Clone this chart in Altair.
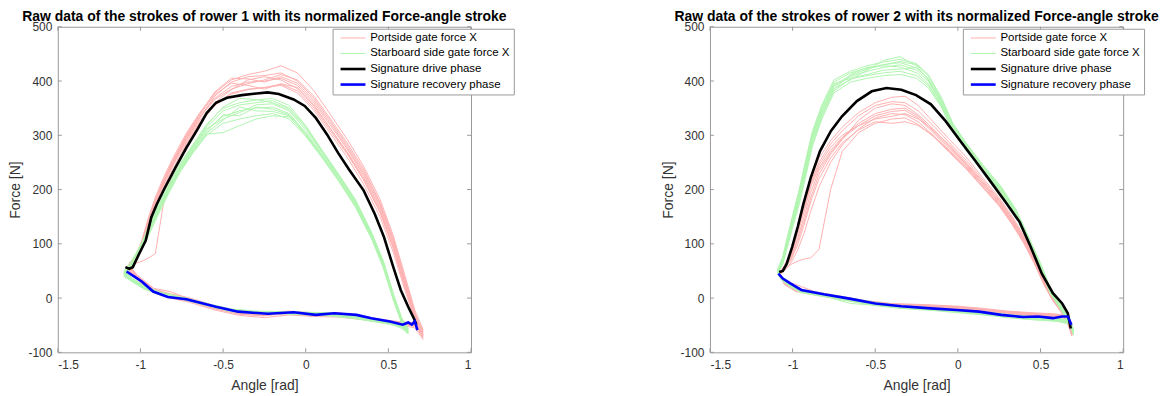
import altair as alt
import pandas as pd

SERIES = ["Portside gate force X", "Starboard side gate force X",
          "Signature drive phase", "Signature recovery phase"]
COLORS = ["#ffb0b0", "#b0f5b0", "#000000", "#0000ff"]
WIDTHS = [1.0, 1.0, 2.6, 2.6]

TITLES = ["Raw data of the strokes of rower 1 with its normalized Force-angle stroke",
          "Raw data of the strokes of rower 2 with its normalized Force-angle stroke"]

X_TICKS = [-1.5, -1, -0.5, 0, 0.5, 1]
Y_TICKS = [-100, 0, 100, 200, 300, 400, 500]

# ---------------- rower 1 ----------------
R1_PORT_DRIVE_ANGLE = [-1.07, -1.03, -0.99, -0.95, -0.91, -0.86, -0.80, -0.72, -0.64, -0.55, -0.45, -0.35,
                       -0.25, -0.15, -0.05, 0.05, 0.15, 0.25, 0.35, 0.45, 0.53, 0.60, 0.66, 0.71]
R1_PORT_DRIVE = [
    [60, 72, 100, 140, 178, 215, 252, 298, 335, 368, 390, 398, 400, 405, 392, 360, 318, 275, 226, 166, 100, 28, -32, -64],
    [57, 66, 90, 126, 165, 204, 240, 288, 325, 356, 378, 385, 388, 392, 378, 346, 303, 260, 210, 150, 84, 15, -40, -72],
    [64, 76, 108, 150, 186, 222, 260, 305, 342, 378, 402, 412, 418, 428, 415, 382, 338, 293, 243, 182, 115, 42, -22, -58],
    [60, 64, 68, 74, 82, 175, 232, 285, 322, 355, 376, 384, 388, 394, 382, 350, 308, 266, 218, 158, 92, 22, -38, -76],
    [58, 70, 96, 134, 172, 210, 248, 294, 332, 372, 398, 408, 410, 415, 400, 368, 326, 282, 234, 174, 108, 35, -26, -68],
    [62, 75, 104, 146, 182, 218, 256, 300, 338, 375, 396, 392, 385, 395, 388, 356, 312, 268, 218, 158, 92, 20, -36, -62],
    [61, 70, 98, 138, 175, 212, 250, 296, 333, 366, 385, 395, 402, 412, 402, 372, 330, 286, 238, 176, 110, 36, -28, -70],
    [59, 68, 94, 132, 170, 208, 246, 292, 328, 360, 384, 402, 408, 402, 386, 354, 312, 270, 222, 162, 96, 24, -34, -66],
    [63, 74, 102, 144, 180, 216, 254, 302, 340, 380, 405, 404, 398, 408, 396, 364, 322, 278, 230, 170, 104, 32, -30, -60],
]
R1_PORT_REC_ANGLE = [0.71, 0.66, 0.58, 0.48, 0.35, 0.20, 0.05, -0.10, -0.25, -0.40, -0.55, -0.70, -0.82, -0.92, -1.00, -1.07]
R1_PORT_REC = [
    [-64, -50, -47, -42, -35, -30, -32, -28, -30, -27, -18, -4, 4, 14, 33, 55],
    [-72, -52, -48, -44, -38, -33, -29, -26, -33, -30, -20, -6, 2, 12, 30, 50],
    [-58, -45, -44, -40, -34, -27, -27, -24, -26, -24, -14, 0, 8, 17, 36, 58],
    [-76, -55, -50, -46, -40, -35, -34, -31, -36, -32, -22, -8, 0, 10, 28, 60],
    [-68, -48, -45, -41, -36, -28, -30, -28, -28, -25, -15, -2, 12, 18, 38, 54],
    [-62, -47, -46, -43, -37, -31, -31, -25, -31, -28, -19, -5, 6, 15, 34, 62],
    [-70, -49, -46, -42, -36, -29, -30, -27, -29, -26, -17, -3, 5, 13, 32, 56],
    [-66, -51, -47, -43, -37, -32, -33, -29, -32, -29, -19, -5, 3, 11, 31, 52],
    [-60, -46, -45, -41, -35, -29, -28, -25, -27, -25, -16, -1, 7, 16, 35, 59],
]
R1_STAR_DRIVE_ANGLE = [-1.10, -1.06, -1.02, -0.98, -0.94, -0.89, -0.83, -0.76, -0.68, -0.60, -0.50, -0.40,
                       -0.30, -0.20, -0.10, 0.00, 0.10, 0.20, 0.30, 0.40, 0.47, 0.53, 0.58, 0.62]
R1_STAR_DRIVE = [
    [45, 60, 80, 104, 132, 165, 202, 240, 276, 310, 335, 345, 350, 352, 340, 305, 265, 222, 176, 114, 62, 3, -42, -60],
    [40, 55, 74, 96, 122, 155, 192, 232, 268, 300, 322, 330, 336, 340, 330, 298, 258, 215, 168, 108, 55, -4, -46, -64],
    [50, 66, 86, 110, 140, 174, 210, 248, 284, 320, 350, 360, 365, 368, 355, 318, 272, 228, 182, 120, 68, 8, -36, -56],
    [42, 58, 78, 100, 128, 160, 196, 236, 272, 302, 305, 318, 330, 336, 334, 302, 262, 218, 172, 110, 58, 0, -44, -66],
    [48, 62, 83, 108, 136, 170, 206, 245, 282, 318, 352, 368, 366, 360, 348, 314, 270, 226, 180, 118, 66, 6, -38, -58],
    [44, 57, 76, 102, 130, 162, 200, 238, 274, 306, 338, 336, 352, 348, 338, 304, 262, 220, 174, 112, 60, 1, -40, -62],
    [46, 59, 79, 103, 131, 164, 201, 241, 278, 312, 330, 342, 356, 358, 345, 310, 268, 224, 178, 116, 64, 4, -40, -61],
    [43, 56, 75, 98, 126, 158, 196, 234, 270, 304, 328, 352, 345, 344, 336, 300, 260, 217, 170, 110, 57, -2, -45, -63],
    [47, 61, 82, 106, 134, 168, 204, 243, 280, 315, 345, 356, 360, 364, 350, 316, 271, 227, 181, 119, 67, 7, -37, -57],
]
R1_STAR_REC_ANGLE = [0.62, 0.58, 0.52, 0.42, 0.30, 0.15, 0.00, -0.15, -0.30, -0.45, -0.60, -0.75, -0.88, -0.98, -1.05, -1.10]
R1_STAR_REC = [
    [-60, -50, -46, -41, -35, -30, -28, -27, -26, -22, -12, 0, 8, 20, 34, 45],
    [-64, -54, -49, -44, -38, -33, -31, -29, -29, -25, -14, -2, 5, 17, 30, 40],
    [-56, -48, -44, -38, -32, -27, -26, -25, -24, -20, -10, 2, 11, 23, 37, 50],
    [-66, -56, -48, -42, -37, -31, -29, -28, -27, -24, -13, -1, 7, 19, 32, 42],
    [-58, -49, -45, -40, -34, -29, -27, -26, -25, -21, -11, 1, 9, 22, 36, 48],
    [-62, -52, -47, -43, -36, -32, -30, -28, -28, -23, -12, 0, 6, 18, 31, 44],
    [-61, -51, -47, -42, -36, -31, -29, -28, -27, -23, -12, 0, 7, 19, 33, 46],
    [-63, -53, -48, -43, -37, -32, -30, -28, -28, -24, -13, -1, 6, 18, 31, 43],
    [-57, -49, -45, -39, -33, -28, -27, -26, -25, -21, -11, 1, 10, 22, 36, 48],
]
R1_SIG_DRIVE_ANGLE = [-1.091, -1.068, -1.046, -1.012, -0.968, -0.934, -0.901, -0.856, -0.789, -0.722, -0.655,
                      -0.599, -0.543, -0.476, -0.386, -0.297, -0.230, -0.163, -0.073, -0.006, 0.061, 0.128,
                      0.195, 0.262, 0.351, 0.418, 0.474, 0.530, 0.575, 0.620, 0.654, 0.670]
R1_SIG_DRIVE = [57, 54, 57, 79, 106, 149, 173, 201, 240, 277, 311, 341, 360, 369, 374, 377, 379, 376, 366,
                354, 332, 302, 268, 237, 198, 155, 112, 57, 15, -16, -37, -49]
R1_SIG_REC_ANGLE = [0.676, 0.660, 0.642, 0.620, 0.587, 0.509, 0.397, 0.307, 0.173, 0.061, -0.073, -0.230,
                    -0.409, -0.543, -0.722, -0.834, -0.923, -0.990, -1.034, -1.084]
R1_SIG_REC = [-59, -43, -49, -45, -49, -43, -37, -31, -28, -31, -26, -29, -25, -16, -2, 2, 12, 30, 39, 49]

# ---------------- rower 2 ----------------
R2_PORT_DRIVE_ANGLE = [-1.08, -1.05, -1.01, -0.97, -0.93, -0.89, -0.84, -0.77, -0.70, -0.60, -0.50, -0.40,
                       -0.32, -0.24, -0.15, -0.05, 0.05, 0.15, 0.25, 0.33, 0.40, 0.46, 0.52, 0.57, 0.62, 0.66, 0.69]
R2_PORT_DRIVE = [
    [45, 55, 78, 118, 160, 205, 240, 272, 296, 322, 340, 348, 350, 335, 308, 278, 248, 213, 178, 143, 108, 72, 30, 2, -20, -40, -64],
    [42, 50, 65, 88, 120, 160, 205, 250, 282, 312, 332, 340, 338, 325, 300, 270, 240, 205, 170, 135, 100, 65, 25, -3, -24, -44, -68],
    [48, 60, 85, 130, 175, 220, 258, 290, 315, 342, 360, 370, 372, 355, 325, 292, 260, 222, 185, 150, 114, 78, 36, 6, -16, -36, -60],
    [44, 52, 62, 68, 72, 74, 90, 200, 270, 305, 322, 330, 332, 320, 298, 268, 238, 204, 170, 136, 102, 68, 27, -1, -22, -42, -66],
    [46, 57, 80, 122, 165, 210, 245, 278, 300, 318, 330, 335, 340, 330, 310, 282, 250, 215, 180, 145, 110, 74, 32, 4, -18, -38, -62],
    [43, 54, 72, 105, 142, 185, 228, 265, 292, 328, 350, 358, 355, 338, 312, 280, 246, 210, 174, 140, 106, 70, 28, 1, -21, -41, -70],
    [44, 53, 74, 110, 150, 195, 235, 268, 294, 318, 336, 344, 346, 332, 305, 275, 244, 210, 176, 141, 106, 71, 29, 1, -20, -40, -66],
    [47, 58, 82, 126, 170, 214, 250, 284, 308, 336, 355, 362, 360, 345, 318, 286, 254, 218, 182, 147, 112, 76, 34, 5, -17, -37, -62],
    [45, 54, 70, 98, 135, 178, 220, 258, 286, 310, 325, 322, 325, 318, 300, 272, 242, 207, 172, 138, 104, 68, 26, -2, -23, -43, -68],
]
R2_PORT_REC_ANGLE = [0.69, 0.66, 0.58, 0.45, 0.30, 0.15, 0.00, -0.20, -0.40, -0.55, -0.70, -0.85, -0.98, -1.05, -1.08]
R2_PORT_REC = [
    [-64, -36, -32, -30, -27, -22, -18, -15, -13, -8, 0, 8, 15, 28, 45],
    [-68, -38, -35, -33, -30, -25, -21, -18, -16, -11, -3, 5, 12, 25, 42],
    [-60, -32, -29, -27, -24, -19, -15, -12, -10, -5, 3, 11, 18, 31, 48],
    [-66, -34, -31, -29, -26, -21, -17, -14, -12, -7, 1, 9, 16, 29, 44],
    [-62, -37, -33, -31, -28, -23, -19, -16, -14, -9, -1, 10, 25, 32, 46],
    [-70, -35, -30, -28, -25, -20, -16, -13, -11, -6, 2, 7, 14, 27, 43],
    [-66, -35, -31, -29, -26, -21, -17, -14, -12, -7, 1, 9, 16, 29, 44],
    [-62, -33, -30, -28, -25, -20, -16, -13, -11, -6, 2, 10, 17, 30, 47],
    [-68, -37, -34, -32, -29, -24, -20, -17, -15, -10, -2, 6, 13, 26, 43],
]
R2_STAR_DRIVE_ANGLE = [-1.09, -1.06, -1.03, -1.00, -0.96, -0.92, -0.88, -0.82, -0.75, -0.65, -0.55, -0.45,
                       -0.35, -0.25, -0.18, -0.10, -0.03, 0.05, 0.15, 0.26, 0.35, 0.42, 0.50, 0.56, 0.62, 0.67, 0.70]
R2_STAR_DRIVE = [
    [50, 70, 105, 142, 188, 242, 296, 346, 390, 408, 418, 425, 430, 420, 400, 360, 315, 280, 240, 200, 158, 112, 58, 14, -16, -42, -62],
    [46, 62, 95, 130, 172, 225, 280, 332, 378, 398, 405, 410, 412, 405, 388, 352, 306, 272, 234, 195, 152, 106, 52, 8, -20, -45, -66],
    [54, 76, 115, 152, 200, 255, 308, 358, 402, 418, 428, 435, 440, 432, 412, 370, 322, 286, 246, 206, 164, 118, 64, 18, -12, -38, -58],
    [48, 66, 100, 136, 180, 235, 288, 340, 385, 412, 425, 428, 426, 415, 395, 355, 310, 276, 237, 197, 155, 108, 55, 10, -18, -44, -68],
    [52, 72, 110, 148, 195, 248, 300, 352, 395, 405, 412, 420, 422, 425, 405, 365, 318, 283, 243, 203, 161, 115, 61, 16, -14, -40, -60],
    [49, 68, 102, 140, 185, 238, 292, 342, 386, 402, 420, 438, 445, 428, 402, 358, 312, 278, 238, 198, 156, 110, 56, 12, -17, -43, -64],
    [51, 71, 108, 145, 192, 245, 298, 348, 392, 410, 422, 430, 434, 424, 404, 362, 317, 282, 242, 202, 160, 114, 60, 15, -15, -41, -61],
    [47, 64, 98, 134, 178, 230, 284, 336, 382, 404, 410, 415, 418, 410, 392, 354, 308, 274, 236, 196, 154, 107, 54, 9, -19, -44, -65],
    [53, 74, 112, 150, 198, 252, 304, 355, 398, 415, 424, 430, 436, 430, 410, 368, 320, 285, 245, 205, 163, 117, 63, 17, -13, -39, -59],
]
R2_STAR_REC_ANGLE = [0.70, 0.68, 0.60, 0.45, 0.30, 0.15, 0.00, -0.15, -0.35, -0.50, -0.65, -0.80, -0.95, -1.02, -1.07, -1.09]
R2_STAR_REC = [
    [-62, -44, -40, -37, -33, -28, -25, -21, -17, -11, -3, 5, 13, 25, 37, 50],
    [-66, -48, -43, -40, -36, -31, -27, -23, -19, -14, -6, 2, 10, 22, 34, 46],
    [-58, -41, -37, -34, -30, -25, -22, -18, -14, -8, 0, 8, 16, 28, 40, 54],
    [-68, -46, -42, -39, -35, -30, -26, -22, -18, -13, -10, 3, 11, 23, 35, 48],
    [-60, -43, -39, -36, -32, -27, -24, -20, -16, -10, -2, 6, 14, 26, 38, 52],
    [-64, -45, -41, -38, -34, -29, -25, -22, -17, -12, -4, 4, 12, 24, 36, 49],
    [-61, -43, -39, -36, -32, -27, -24, -20, -16, -10, -2, 6, 14, 26, 38, 51],
    [-65, -47, -42, -39, -35, -30, -26, -22, -18, -13, -5, 3, 11, 23, 35, 47],
    [-59, -42, -38, -35, -31, -26, -23, -19, -15, -9, -1, 7, 15, 27, 39, 53],
]
R2_SIG_DRIVE_ANGLE = [-1.081, -1.059, -1.036, -1.003, -0.969, -0.935, -0.890, -0.834, -0.768, -0.701, -0.611,
                      -0.521, -0.432, -0.342, -0.253, -0.163, -0.074, 0.016, 0.105, 0.195, 0.284, 0.374,
                      0.441, 0.508, 0.575, 0.631, 0.665, 0.683]
R2_SIG_DRIVE = [48, 50, 63, 94, 131, 173, 222, 271, 308, 335, 363, 381, 387, 384, 374, 357, 326, 289, 253,
                216, 179, 140, 94, 45, 9, -10, -28, -56]
R2_SIG_REC_ANGLE = [0.687, 0.665, 0.631, 0.575, 0.485, 0.396, 0.262, 0.128, -0.007, -0.163, -0.342, -0.499,
                    -0.656, -0.812, -0.947, -1.014, -1.059, -1.086]
R2_SIG_REC = [-49, -34, -34, -37, -34, -35, -31, -25, -22, -19, -15, -10, -1, 7, 15, 27, 36, 45]

ROWERS = [
    dict(port=(R1_PORT_DRIVE_ANGLE, R1_PORT_DRIVE, R1_PORT_REC_ANGLE, R1_PORT_REC),
         star=(R1_STAR_DRIVE_ANGLE, R1_STAR_DRIVE, R1_STAR_REC_ANGLE, R1_STAR_REC),
         drive=(R1_SIG_DRIVE_ANGLE, R1_SIG_DRIVE), rec=(R1_SIG_REC_ANGLE, R1_SIG_REC)),
    dict(port=(R2_PORT_DRIVE_ANGLE, R2_PORT_DRIVE, R2_PORT_REC_ANGLE, R2_PORT_REC),
         star=(R2_STAR_DRIVE_ANGLE, R2_STAR_DRIVE, R2_STAR_REC_ANGLE, R2_STAR_REC),
         drive=(R2_SIG_DRIVE_ANGLE, R2_SIG_DRIVE), rec=(R2_SIG_REC_ANGLE, R2_SIG_REC)),
]

FONT = "Liberation Sans"
W, H = 415, 327
LEGEND_X = [276, 254]


def build_rows(r):
    rows = []
    for key, sname in (("port", SERIES[0]), ("star", SERIES[1])):
        da, dforces, ra, rforces = r[key]
        for k, (df_, rf_) in enumerate(zip(dforces, rforces)):
            angles = list(da) + list(ra)
            forces = list(df_) + list(rf_)
            for i, (a, f) in enumerate(zip(angles, forces)):
                rows.append(dict(series=sname, stroke=f"{key}{k}", idx=i, angle=a, force=f))
    for key, sname in (("drive", SERIES[2]), ("rec", SERIES[3])):
        a_, f_ = r[key]
        for i, (a, f) in enumerate(zip(a_, f_)):
            rows.append(dict(series=sname, stroke=key, idx=i, angle=a, force=f))
    return pd.DataFrame(rows)


SYMBOL_WIDTH_EXPR = ("(datum.value == '%s' || datum.value == '%s') ? %s : %s"
                     % (SERIES[2], SERIES[3], WIDTHS[2], WIDTHS[0]))


def legend(lx):
    return alt.Legend(
        title=None, orient="none", legendX=lx, legendY=2,
        symbolType="M-0.25,0H4.75", symbolSize=100, labelOffset=22.75,
        padding=3.5, rowPadding=2.6, strokeColor="#999999", fillColor="white",
        labelFont=FONT, labelFontSize=11.5, labelColor="#000000", labelLimit=300,
        symbolStrokeWidth={"expr": SYMBOL_WIDTH_EXPR},
    )


def panel(p):
    df = build_rows(ROWERS[p])
    color = alt.Color("series:N", scale=alt.Scale(domain=SERIES, range=COLORS), legend=legend(LEGEND_X[p]))
    x = alt.X("angle:Q", scale=alt.Scale(domain=[-1.5, 1], nice=False, zero=False),
              axis=alt.Axis(values=X_TICKS, title="Angle [rad]", labelExpr="'' + datum.value"))
    y = alt.Y("force:Q", scale=alt.Scale(domain=[-100, 500], nice=False, zero=False),
              axis=alt.Axis(values=Y_TICKS, title="Force [N]", labelExpr="'' + datum.value"))
    base = alt.Chart(df)
    layers = []
    for s, w in zip(SERIES, WIDTHS):
        layers.append(
            base.transform_filter(alt.datum.series == s)
            .mark_line(strokeWidth=w)
            .encode(x=x, y=y, color=color, detail="stroke:N", order="idx:Q")
        )
    xt = alt.Chart(pd.DataFrame({"angle": X_TICKS}))
    yt = alt.Chart(pd.DataFrame({"force": Y_TICKS}))
    tick_style = dict(color="#999999", strokeWidth=1)
    ticks = [
        xt.mark_rule(**tick_style).encode(x=alt.X("angle:Q"), y=alt.value(H), y2=alt.value(H - 4)),
        xt.mark_rule(**tick_style).encode(x=alt.X("angle:Q"), y=alt.value(0), y2=alt.value(4)),
        yt.mark_rule(**tick_style).encode(y=alt.Y("force:Q"), x=alt.value(0), x2=alt.value(4)),
        yt.mark_rule(**tick_style).encode(y=alt.Y("force:Q"), x=alt.value(W), x2=alt.value(W - 4)),
    ]
    return alt.layer(*layers, *ticks).properties(
        width=W, height=H,
        title=alt.Title(TITLES[p], font=FONT, fontSize=14, fontWeight="bold", color="#000000",
                        anchor="middle", frame="group", offset=-3),
    )


chart = (
    alt.hconcat(panel(0), panel(1), spacing=240, bounds="flush")
    .resolve_scale(color="independent")
    .resolve_legend(color="independent")
    .properties(padding={"left": 0, "top": 0, "right": 0, "bottom": 0})
    .configure_view(stroke="#999999", strokeWidth=1)
    .configure_axis(grid=False, domain=False, ticks=False, tickSize=0,
                    labelFont=FONT, labelFontSize=12, labelColor="#333333",
                    titleFont=FONT, titleFontSize=14, titleColor="#333333", titleFontWeight="normal")
    .configure_axisX(labelPadding=7, titlePadding=8)
    .configure_axisY(labelPadding=6, titlePadding=5)
)

chart.save("out.html", embed_options={"renderer": "svg", "actions": False})
